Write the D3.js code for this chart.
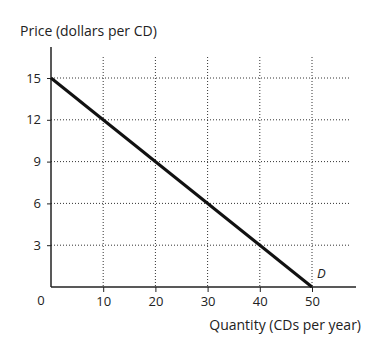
<!DOCTYPE html>
<html>
<head>
<meta charset="utf-8">
<script src="https://cdn.jsdelivr.net/npm/d3@7"></script>
<style>
  body { margin: 0; background: #fff; }
  text { font-family: "Open Sans", Lato, sans-serif; fill: #222; }
</style>
</head>
<body>
<div id="chart"></div>
<script>
// demand curve points (quantity, price)
const quantity = [0, 50];
const price = [15, 0];
const xTicks = [10, 20, 30, 40, 50];
const yTicks = [3, 6, 9, 12, 15];

const width = 381,
  height = 353;

const x = d3.scaleLinear().domain([0, 50]).range([51, 312]);
const y = d3.scaleLinear().domain([0, 15]).range([287, 78]);

const svg = d3.select("#chart")
  .append("svg")
  .attr("width", width)
  .attr("height", height);

// dotted grid
svg.append("g")
  .attr("stroke", "#333")
  .attr("stroke-width", 1)
  .attr("stroke-dasharray", "1,2")
  .selectAll("line")
  .data(yTicks)
  .join("line")
  .attr("x1", x(0))
  .attr("x2", 350)
  .attr("y1", d => y(d))
  .attr("y2", d => y(d));

svg.append("g")
  .attr("stroke", "#333")
  .attr("stroke-width", 1)
  .attr("stroke-dasharray", "1,2")
  .selectAll("line")
  .data(xTicks)
  .join("line")
  .attr("x1", d => x(d))
  .attr("x2", d => x(d))
  .attr("y1", 57)
  .attr("y2", y(0));

// axes
const xAxis = svg.append("g")
  .attr("transform", `translate(0,${y(0)})`)
  .call(d3.axisBottom(x).tickValues(xTicks).tickSize(5).tickPadding(5).tickSizeOuter(0));
xAxis.select(".domain").remove();
xAxis.append("line")
  .attr("x1", x(0)).attr("x2", 356)
  .attr("stroke", "#222").attr("stroke-width", 1.5);

const yAxis = svg.append("g")
  .attr("transform", `translate(${x(0)},0)`)
  .call(d3.axisLeft(y).tickValues(yTicks).tickSize(4).tickPadding(6).tickSizeOuter(0));
yAxis.select(".domain").remove();
yAxis.append("line")
  .attr("y1", 47).attr("y2", y(0))
  .attr("stroke", "#222").attr("stroke-width", 1.5);

svg.selectAll(".tick text")
  .attr("font-size", 13)
  .attr("font-family", "'Open Sans', Lato, sans-serif")
  .attr("fill", "#222");
svg.selectAll(".tick line").attr("stroke", "#222");

// origin label
svg.append("text")
  .attr("x", 41)
  .attr("y", 305)
  .attr("text-anchor", "middle")
  .attr("font-size", 13)
  .text("0");

// demand line
svg.append("line")
  .attr("x1", x(quantity[0]))
  .attr("y1", y(price[0]))
  .attr("x2", x(quantity[1]))
  .attr("y2", y(price[1]))
  .attr("stroke", "#111")
  .attr("stroke-width", 3);

svg.append("text")
  .attr("x", x(50) + 5)
  .attr("y", y(0) - 9)
  .attr("font-size", 13)
  .attr("font-style", "italic")
  .text("D");

// axis titles
svg.append("text")
  .attr("x", 20)
  .attr("y", 36)
  .attr("font-size", 14)
  .text("Price (dollars per CD)");

svg.append("text")
  .attr("x", 361)
  .attr("y", 330)
  .attr("text-anchor", "end")
  .attr("font-size", 14)
  .text("Quantity (CDs per year)");
</script>
</body>
</html>
